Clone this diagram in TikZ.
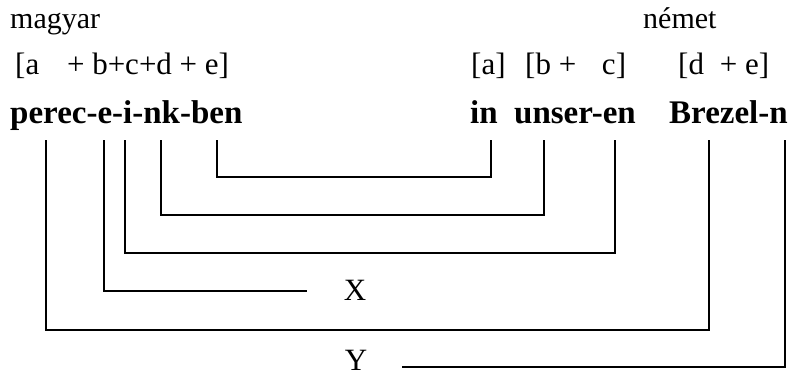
\documentclass[tikz,border=0pt]{standalone}
\usepackage{fontspec}
\setmainfont{Liberation Serif}
\usetikzlibrary{positioning}
\tikzset{
  lang/.style={inner sep=0pt,anchor=base west,font=\fontsize{30}{33}\selectfont},
  gloss/.style={inner sep=0pt,anchor=base west,font=\fontsize{31}{34}\selectfont},
  word/.style={inner sep=0pt,anchor=base west,font=\fontsize{33}{36}\selectfont\bfseries},
  tag/.style={inner sep=0pt,font=\fontsize{31}{34}\selectfont},
  link/.style={line width=1.9pt},
}
\begin{document}
\begin{tikzpicture}[x=1pt,y=-1pt]
\useasboundingbox (0,0) rectangle (793,378);
% languages
\node[lang] (hu) at (10,28) {magyar};
\node[lang] (de) at (643,28) {német};
% glosses
\node[gloss] (hugl) at (15,74) {[a\hspace{20pt} + b+c+d + e]};
\node[gloss] (degla) at (471,74) {[a]};
\node[gloss] (deglb) at (525,74) {[b +\hspace{18pt} c]};
\node[gloss] (deglc) at (678,74) {[d\hspace{8pt} + e]};
% words
\node[word] (huw) at (10,123) {perec-e-i-nk-ben};
\node[word] (in) at (470,123) {in};
\node[word] (unser) at (514,123) {unser-en};
\node[word] (brezel) at (669,123) {Brezel-n};
% link tops
\foreach \n/\x in {h1/46,h2/104,h3/125,h4/161,h5/217,g1/491,g2/544,g3/615,g4/709,g5/785}
  \coordinate (\n) at (\x,140);
\node[tag] (X) at (355,290) {X};
\node[tag] (Y) at (356,360) {Y};
\coordinate (xend) at (307,291);
\coordinate (yend) at (402,367);

\draw[link] (h5) -- ++(0,37) -| (g1);
\draw[link] (h4) -- ++(0,75) -| (g2);
\draw[link] (h3) -- ++(0,113) -| (g3);
\draw[link] (h2) |- (xend);
\draw[link] (h1) -- ++(0,190) -| (g4);
\draw[link] (g5) |- (yend);
\end{tikzpicture}
\end{document}
